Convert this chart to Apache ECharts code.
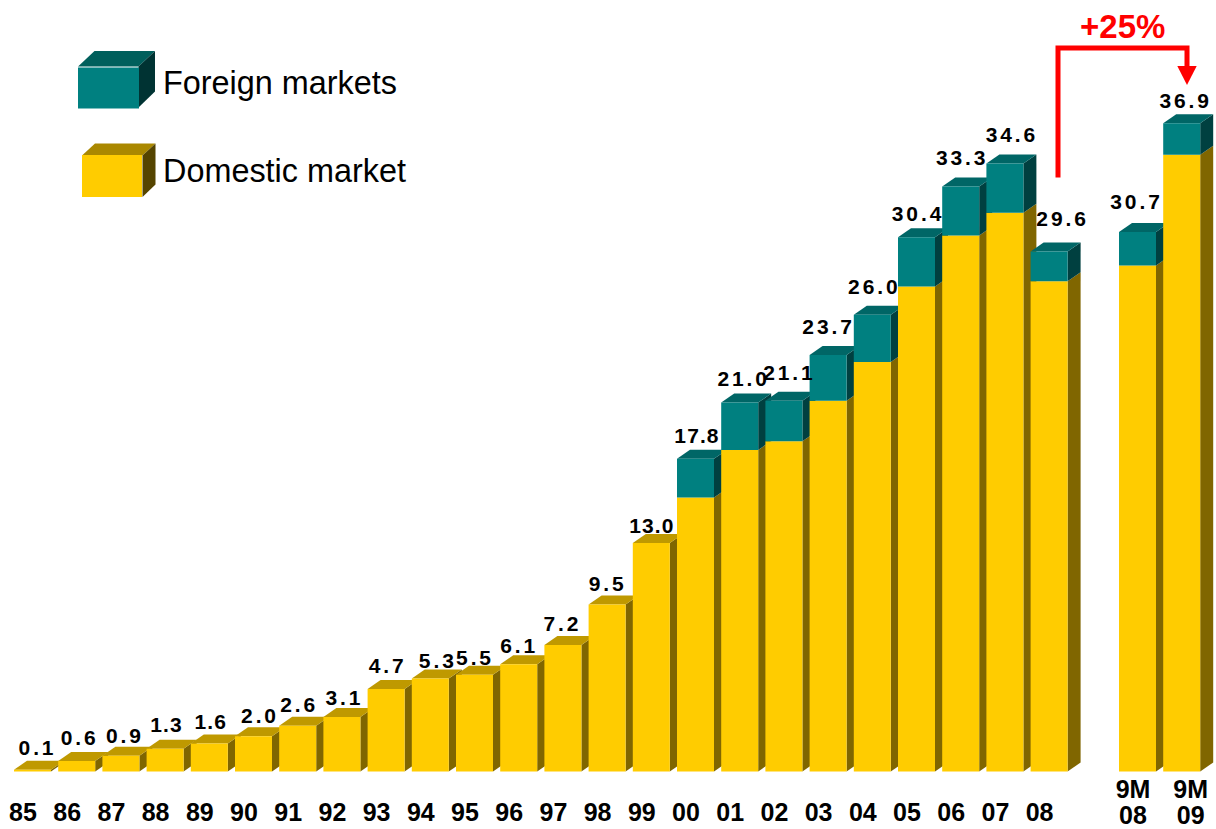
<!DOCTYPE html>
<html>
<head>
<meta charset="utf-8">
<title>Sales by year</title>
<style>
  html, body { margin: 0; padding: 0; background: #fff; overflow: hidden; }
  #chart { width: 1216px; height: 829px; }
  /* spaced-out value figures above the columns */
  #chart text[style*="Liberation Sans"] { letter-spacing: 2.9px; }
  #chart text[style*="Arimo"] { letter-spacing: 1.1px; }
</style>
<script src="https://cdn.jsdelivr.net/npm/echarts@6/dist/echarts.min.js"></script>
</head>
<body>
<div id="chart"></div>
<script>
const categories = ['85','86','87','88','89','90','91','92','93','94','95','96','97','98','99',
  '00','01','02','03','04','05','06','07','08','','9M\n08','9M\n09'];
const totals = [0.1,0.6,0.9,1.3,1.6,2.0,2.6,3.1,4.7,5.3,5.5,6.1,7.2,9.5,13.0,
  17.8,21.0,21.1,23.7,26.0,30.4,33.3,34.6,29.6,null,30.7,36.9];
const domestic = [0.1,0.6,0.9,1.3,1.6,2.0,2.6,3.1,4.7,5.3,5.5,6.1,7.2,9.5,13.0,
  15.6,18.3,18.8,21.1,23.3,27.6,30.5,31.8,27.9,null,28.8,35.1];
const foreign = [null,null,null,null,null,null,null,null,null,null,null,null,null,null,null,
  2.2,2.7,2.3,2.6,2.7,2.8,2.8,2.8,1.7,null,1.9,1.8];

// Hand placement of the value figures relative to their column, in pixels.
const labelShiftX = [4.5,2.5,3.5,1,1,6,1,2,1,7,0,0,-1,0,0,1,3.5,5,0,1.5,1,1,6.5,13,0,-1.5,3.5];
const labelShiftY = [2,1,4,0,2,3,3,4,1,6,7,5,3,3,6,1,0,-4,-5,-4,0,-5,-5,-9,0,-7,1];

const BAR_W = 37, DEPTH_X = 13, DEPTH_Y = 9;
const TEAL = { front: '#008080', top: '#006666', side: '#004040' };
const GOLD = { front: '#FFCC00', top: '#BF9900', side: '#806600' };
const SANS = 'Arial, sans-serif';

function prism(idx, x, yTop, yBottom, pal, withTop) {
  const x1 = x + BAR_W;
  const faces = [];
  const z2 = 10 + idx * 10;
  faces.push({
    type: 'polygon', z2: z2,
    shape: { points: [[x1, yTop], [x1 + DEPTH_X, yTop - DEPTH_Y], [x1 + DEPTH_X, yBottom - DEPTH_Y], [x1, yBottom]] },
    style: { fill: pal.side }
  });
  if (withTop) {
    faces.push({
      type: 'polygon', z2: z2,
      shape: { points: [[x, yTop], [x + DEPTH_X, yTop - DEPTH_Y], [x1 + DEPTH_X, yTop - DEPTH_Y], [x1, yTop]] },
      style: { fill: pal.top }
    });
  }
  faces.push({
    type: 'rect', z2: z2 + 1,
    shape: { x: x, y: yTop, width: BAR_W, height: yBottom - yTop },
    style: { fill: pal.front }
  });
  return { type: 'group', children: faces };
}

function renderDomestic(params, api) {
  const idx = api.value(0), v = api.value(1);
  if (isNaN(v)) return null;
  const top = api.coord([idx, v]), base = api.coord([idx, 0]);
  return prism(idx, top[0] - BAR_W / 2, top[1], base[1], GOLD, isNaN(api.value(2)));
}

function renderForeign(params, api) {
  const idx = api.value(0), low = api.value(1), size = api.value(2);
  if (isNaN(size)) return null;
  const top = api.coord([idx, low + size]), bottom = api.coord([idx, low]);
  return prism(idx, top[0] - BAR_W / 2, top[1], bottom[1], TEAL, true);
}

function renderFigure(params, api) {
  const idx = api.value(0), v = api.value(1);
  if (isNaN(v)) return null;
  const p = api.coord([idx, v]);
  // Figures beginning with a 1 are set a little tighter.
  const tight = String(totals[idx]).charAt(0) === '1';
  return {
    type: 'text', z2: 1000,
    style: {
      x: p[0] + labelShiftX[idx] + 0.5,
      y: p[1] - DEPTH_Y - 15 + labelShiftY[idx],
      text: totals[idx].toFixed(1),
      fill: '#000',
      fontSize: 21,
      fontWeight: 'bold',
      fontFamily: tight ? 'Arimo, Liberation Sans' : 'Liberation Sans',
      align: 'center',
      verticalAlign: 'middle'
    }
  };
}

const chart = echarts.init(document.getElementById('chart'), null, { renderer: 'svg', width: 1216, height: 829 });

function tickItem(name, i) {
  const two = name.indexOf('\n') >= 0;
  if (!two) return { value: name, textStyle: { padding: [23, 19, 0, 0] } };
  return { value: name, textStyle: { padding: i === 25 ? [0, 9, 0, 0] : [0, 0, 0, 18] } };
}

function legendText(shift) {
  return {
    fontSize: 32.4, color: '#000', fontFamily: SANS,
    rich: { t: { fontSize: 32.4, color: '#000', fontFamily: SANS, padding: [0, 0, 10, shift] } }
  };
}

chart.setOption({
  animation: false,
  backgroundColor: '#fff',
  grid: { left: 10.4, width: 1193.4, top: 68.7, height: 702.8, outerBoundsMode: 'none' },
  xAxis: {
    type: 'category',
    data: categories.map(tickItem),
    boundaryGap: true,
    axisLine: { show: false },
    axisTick: { show: false },
    axisLabel: {
      interval: 0,
      hideOverlap: false,
      margin: 4,
      verticalAlign: 'top',
      lineHeight: 26.5,
      fontSize: 25,
      fontWeight: 'bold',
      color: '#000',
      fontFamily: SANS
    }
  },
  yAxis: { type: 'value', min: 0, max: 40, show: false },
  legend: [
    {
      data: ['Foreign markets'], left: 78, top: 67, padding: 0, icon: 'rect',
      itemWidth: 61, itemHeight: 41, selectedMode: false,
      formatter: '{t|{name}}', textStyle: legendText(19)
    },
    {
      data: ['Domestic market'], left: 82, top: 155, padding: 0, icon: 'rect',
      itemWidth: 60, itemHeight: 42, selectedMode: false,
      formatter: '{t|{name}}', textStyle: legendText(16)
    }
  ],
  series: [
    {
      type: 'custom', name: 'Domestic market', renderItem: renderDomestic,
      itemStyle: { color: GOLD.front }, silent: true, clip: false,
      encode: { x: 0, y: 1 },
      data: categories.map((c, i) => [i, domestic[i], foreign[i]])
    },
    {
      type: 'custom', name: 'Foreign markets', renderItem: renderForeign,
      itemStyle: { color: TEAL.front }, silent: true, clip: false,
      encode: { x: 0, y: 1 },
      data: categories.map((c, i) => [i, domestic[i], foreign[i]])
    },
    {
      type: 'custom', name: 'Total', renderItem: renderFigure, silent: true, clip: false,
      encode: { x: 0, y: 1 },
      data: categories.map((c, i) => [i, totals[i]])
    }
  ],
  graphic: [
    { type: 'polygon', shape: { points: [[78, 66.5], [94.5, 51], [155, 51], [138.5, 66.5]] }, style: { fill: '#005F5C' } },
    { type: 'polygon', shape: { points: [[138.5, 66.5], [155, 51], [155, 91.5], [138.5, 107.5]] }, style: { fill: '#003333' } },
    { type: 'polygon', shape: { points: [[82, 155.5], [95, 143.5], [155.5, 143.5], [142.5, 155.5]] }, style: { fill: '#AA8800' } },
    { type: 'polygon', shape: { points: [[142.5, 155.5], [155.5, 143.5], [155.5, 184.5], [142.5, 197]] }, style: { fill: '#554400' } },
    { type: 'polyline', shape: { points: [[1058, 177.5], [1058, 48], [1187, 48], [1187, 67]] },
      style: { stroke: '#FF0000', lineWidth: 5, fill: 'none' } },
    { type: 'polygon', shape: { points: [[1177.3, 66], [1196.7, 66], [1187, 85]] }, style: { fill: '#FF0000' } },
    { type: 'text', style: { x: 1122.7, y: 26, text: '+25%', fill: '#FF0000', fontSize: 33, fontWeight: 'bold',
      fontFamily: SANS, align: 'center', verticalAlign: 'middle' } }
  ]
});
</script>
</body>
</html>
